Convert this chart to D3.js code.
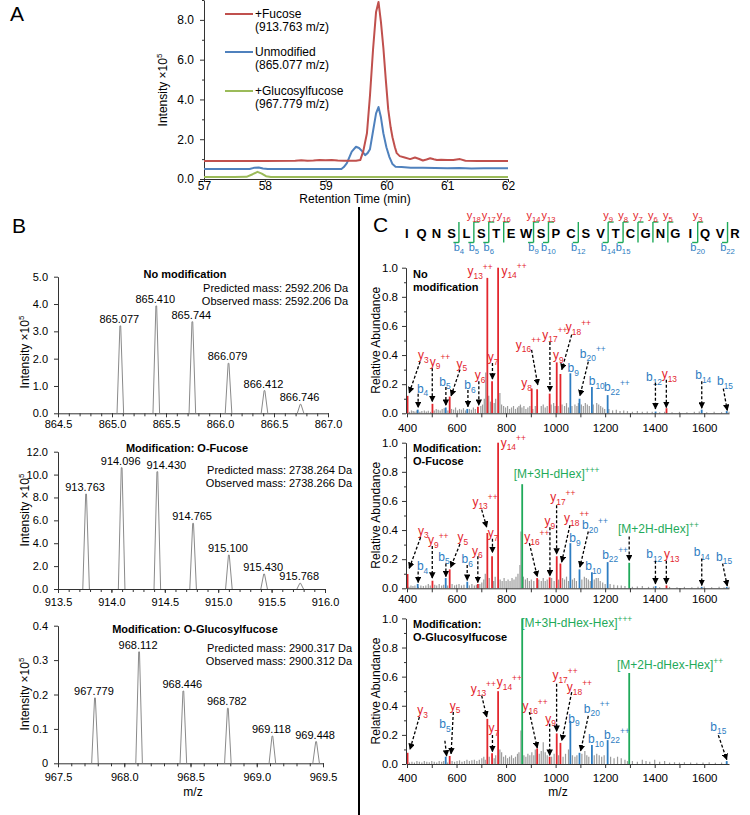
<!DOCTYPE html>
<html><head><meta charset="utf-8">
<script src="https://cdn.jsdelivr.net/npm/d3@7"></script>
<style>body{margin:0;background:#fff}svg{display:block}text{font-family:"Liberation Sans",Arial,Helvetica,sans-serif}</style>
</head><body><svg id="c" width="750" height="815"></svg>
<script>
// ---------------- DATA ----------------
// Panel A: extracted ion chromatograms [time (min), intensity x1e5]
const rtTicks = [57, 58, 59, 60, 61, 62];
const intTicksA = [0, 2, 4, 6, 8];
const fucoseTrace = [[57.0,0.91],[57.5,0.91],[58.0,0.91],[58.5,0.92],[58.6,0.94],[58.7,0.92],[58.8,0.93],[58.9,0.95],[59.0,0.94],[59.1,0.96],[59.2,0.93],[59.3,0.92],[59.4,0.92],[59.5,0.92],[59.57,0.95],[59.62,1.4],[59.68,2.3],[59.73,4.2],[59.78,6.5],[59.83,8.4],[59.87,8.9],[59.91,7.9],[59.95,6.6],[59.99,5.0],[60.03,3.5],[60.07,2.6],[60.1,2.1],[60.14,1.6],[60.17,1.3],[60.22,1.15],[60.3,1.08],[60.39,1.0],[60.47,1.08],[60.53,1.02],[60.6,0.93],[60.66,0.98],[60.72,1.04],[60.78,0.99],[60.83,0.96],[60.9,0.97],[61.0,0.96],[61.1,0.95],[61.21,1.0],[61.3,0.92],[61.5,0.91],[61.7,0.91],[61.9,0.91],[62.0,0.91]];
const unmodTrace = [[57.0,0.5],[57.5,0.5],[57.75,0.5],[57.82,0.56],[57.9,0.58],[57.97,0.53],[58.05,0.5],[58.5,0.5],[59.0,0.5],[59.26,0.5],[59.3,0.6],[59.35,0.8],[59.43,1.38],[59.5,1.62],[59.55,1.56],[59.6,1.4],[59.65,1.2],[59.69,1.3],[59.73,1.5],[59.78,2.4],[59.83,3.3],[59.87,3.62],[59.91,3.1],[59.95,2.3],[60.0,1.6],[60.05,1.1],[60.1,0.75],[60.15,0.62],[60.25,0.6],[60.4,0.57],[60.6,0.56],[60.8,0.55],[61.0,0.54],[61.2,0.55],[61.4,0.53],[61.6,0.54],[61.8,0.54],[62.0,0.54]];
const glcFucTrace = [[57.0,0.1],[57.5,0.1],[57.7,0.11],[57.8,0.24],[57.88,0.36],[57.95,0.27],[58.02,0.14],[58.1,0.1],[58.5,0.1],[59.0,0.1],[60.0,0.1],[61.0,0.1],[62.0,0.1]];
const legendNames = ["+Fucose", "Unmodified", "+Glucosylfucose"];
const legendMz = ["(913.763 m/z)", "(865.077 m/z)", "(967.779 m/z)"];

// Panel B: isotope envelopes
const b1Ticks = [864.5, 865.0, 865.5, 866.0, 866.5, 867.0];
const b1Mz = [865.077, 865.410, 865.744, 866.079, 866.412, 866.746];
const b1Int = [3.2, 3.93, 3.35, 1.83, 0.83, 0.33];
const b1YTicks = [0, 1, 2, 3, 4, 5];
const b2Ticks = [913.5, 914.0, 914.5, 915.0, 915.5, 916.0];
const b2Mz = [913.763, 914.096, 914.430, 914.765, 915.100, 915.430, 915.768];
const b2Int = [8.3, 10.6, 10.25, 5.74, 2.97, 1.31, 0.5];
const b2YTicks = [0, 2, 4, 6, 8, 10, 12];
const b3Ticks = [967.5, 968.0, 968.5, 969.0, 969.5];
const b3Mz = [967.779, 968.112, 968.446, 968.782, 969.118, 969.448];
const b3Int = [0.19, 0.324, 0.21, 0.16, 0.079, 0.063];
const b3YTicks = [0, 0.1, 0.2, 0.3, 0.4];
const bTitles = ["No modification", "Modification: O-Fucose", "Modification: O-Glucosylfucose"];
const bPredicted = ["Predicted mass: 2592.206 Da", "Predicted mass: 2738.264 Da", "Predicted mass: 2900.317 Da"];
const bObserved = ["Observed mass: 2592.206 Da", "Observed mass: 2738.266 Da", "Observed mass: 2900.312 Da"];

// Panel C: sequence and fragment coverage
const sequence = "IQNSLSTEWSPCSVTCGNGIQVR".split("");
const bIons = [4, 5, 6, 9, 10, 12, 14, 15, 20, 22];
const yIons = [18, 17, 16, 14, 13, 9, 8, 7, 6, 5, 3];
const mzTicks = [400, 600, 800, 1000, 1200, 1400, 1600];
const abTicks = [0, 0.2, 0.4, 0.6, 0.8, 1.0];

// MS/MS peaks [m/z, relative abundance]
const c1Red = [[402.25,0.12],[502.75,0.065],[572.35,0.115],[686.39,0.045],[724.34,0.93],[743.42,0.22],[767.86,1.0],[903.45,0.17],[925.42,0.165],[975.94,0.135],[1004.49,0.35],[1019.46,0.27],[1447.68,0.035]];
const c1Blue = [[443.22,0.025],[556.31,0.04],[643.34,0.03],[1059.51,0.275],[1096.49,0.1],[1146.54,0.18],[1210.05,0.125],[1403.63,0.012],[1589.73,0.025],[1690.77,0.015]];
const c1Green = [];
const c1Grey = [[410,0.01],[418,0.02],[425,0.015],[432,0.012],[440,0.02],[452,0.01],[460,0.015],[470,0.02],[478,0.012],[486,0.018],[495,0.01],[510,0.02],[518,0.03],[526,0.025],[534,0.02],[542,0.03],[550,0.035],[565,0.02],[580,0.03],[588,0.025],[596,0.04],[604,0.02],[612,0.03],[620,0.025],[628,0.035],[636,0.02],[652,0.03],[660,0.025],[668,0.04],[676,0.03],[698,0.05],[705,0.06],[712,0.1],[718,0.28],[730,0.12],[737,0.08],[752,0.07],[758,0.1],[775,0.14],[782,0.06],[790,0.05],[798,0.04],[806,0.05],[814,0.03],[822,0.04],[830,0.05],[838,0.03],[846,0.04],[852,0.05],[858,0.06],[864,0.04],[872,0.05],[880,0.03],[888,0.04],[896,0.05],[908,0.03],[918,0.05],[942,0.05],[950,0.06],[958,0.04],[966,0.05],[982,0.06],[992,0.07],[998,0.05],[1010,0.05],[1026,0.06],[1036,0.05],[1044,0.07],[1052,0.04],[1066,0.05],[1078,0.06],[1086,0.05],[1092,0.07],[1104,0.06],[1112,0.05],[1120,0.07],[1128,0.06],[1136,0.05],[1152,0.06],[1166,0.07],[1174,0.06],[1182,0.05],[1190,0.04],[1198,0.03],[1215,0.03],[1230,0.02],[1245,0.025],[1260,0.015],[1275,0.02],[1290,0.015],[1310,0.01],[1330,0.015],[1350,0.01],[1370,0.012],[1390,0.01],[1420,0.008],[1440,0.01],[1470,0.008],[1500,0.01],[1530,0.008],[1560,0.01],[1580,0.012],[1610,0.008],[1640,0.01],[1670,0.008],[1700,0.01]];

const c2Red = [[402.25,0.098],[502.75,0.052],[572.35,0.13],[686.39,0.03],[724.34,0.38],[743.42,0.22],[767.86,1.0],[925.42,0.07],[975.94,0.075],[1004.49,0.22],[1019.46,0.17],[1447.68,0.02]];
const c2Blue = [[443.22,0.03],[556.31,0.07],[643.34,0.045],[1059.51,0.31],[1096.49,0.13],[1146.54,0.11],[1210.05,0.18],[1403.63,0.015],[1589.73,0.01],[1690.77,0.01]];
const c2Green = [[865.08,0.715],[1297.11,0.175]];
const c2Grey = [[408,0.01],[416,0.02],[424,0.015],[432,0.02],[446,0.01],[456,0.02],[466,0.015],[476,0.02],[486,0.03],[494,0.02],[512,0.025],[520,0.02],[530,0.03],[540,0.02],[548,0.025],[564,0.02],[582,0.03],[592,0.02],[600,0.025],[610,0.03],[620,0.02],[630,0.025],[652,0.02],[662,0.03],[672,0.02],[680,0.025],[694,0.03],[702,0.04],[710,0.06],[716,0.1],[732,0.07],[750,0.05],[756,0.08],[776,0.06],[784,0.05],[792,0.07],[800,0.05],[808,0.06],[816,0.05],[824,0.07],[832,0.06],[840,0.08],[848,0.1],[856,0.16],[860,0.39],[870,0.08],[878,0.06],[886,0.07],[894,0.05],[902,0.06],[912,0.05],[932,0.06],[942,0.05],[950,0.07],[958,0.05],[966,0.06],[984,0.07],[994,0.05],[1012,0.06],[1028,0.07],[1036,0.06],[1044,0.08],[1052,0.05],[1068,0.06],[1076,0.07],[1084,0.05],[1106,0.06],[1116,0.08],[1124,0.07],[1132,0.06],[1140,0.05],[1156,0.06],[1164,0.07],[1172,0.07],[1180,0.05],[1190,0.04],[1200,0.03],[1220,0.03],[1235,0.025],[1250,0.02],[1265,0.02],[1280,0.015],[1310,0.01],[1330,0.012],[1350,0.015],[1375,0.01],[1395,0.012],[1420,0.008],[1460,0.01],[1490,0.008],[1520,0.01],[1550,0.008],[1575,0.01],[1600,0.012],[1630,0.008],[1660,0.01],[1680,0.008],[1700,0.01]];

const c3Red = [[402.25,0.077],[572.35,0.055],[724.34,0.31],[743.42,0.073],[767.86,0.5],[925.42,0.107],[975.94,0.05],[1004.49,0.21],[1019.46,0.145]];
const c3Blue = [[556.31,0.05],[1059.51,0.295],[1096.49,0.077],[1146.54,0.13],[1210.05,0.164],[1690.77,0.02]];
const c3Green = [[865.08,1.0],[1297.11,0.625]];
const c3Grey = [[410,0.01],[420,0.015],[430,0.01],[440,0.02],[450,0.015],[460,0.01],[470,0.02],[480,0.015],[490,0.012],[500,0.02],[510,0.015],[520,0.01],[530,0.02],[540,0.015],[548,0.02],[564,0.01],[582,0.02],[592,0.015],[602,0.02],[612,0.025],[622,0.015],[632,0.02],[642,0.03],[652,0.02],[662,0.025],[672,0.03],[682,0.02],[692,0.03],[702,0.04],[710,0.05],[716,0.03],[732,0.05],[752,0.04],[758,0.06],[775,0.1],[782,0.08],[790,0.05],[798,0.06],[806,0.04],[814,0.05],[822,0.06],[830,0.04],[838,0.05],[846,0.07],[852,0.08],[860,0.23],[872,0.06],[880,0.05],[888,0.07],[896,0.06],[904,0.08],[912,0.06],[918,0.1],[934,0.07],[942,0.09],[950,0.15],[958,0.08],[966,0.06],[984,0.05],[994,0.07],[1012,0.06],[1030,0.05],[1040,0.07],[1052,0.1],[1068,0.06],[1078,0.05],[1086,0.06],[1106,0.07],[1118,0.09],[1126,0.06],[1134,0.05],[1156,0.06],[1166,0.07],[1176,0.06],[1186,0.05],[1196,0.06],[1222,0.05],[1236,0.04],[1250,0.05],[1265,0.04],[1280,0.03],[1290,0.02],[1310,0.02],[1330,0.015],[1350,0.03],[1365,0.02],[1380,0.015],[1400,0.03],[1420,0.015],[1440,0.02],[1460,0.01],[1480,0.012],[1500,0.01],[1520,0.012],[1545,0.01],[1570,0.008],[1595,0.01],[1620,0.012],[1645,0.008],[1670,0.01],[1690,0.012]];

// Annotations: [label, label m/z, label abundance, arrow [fromMz, fromAb, toMz, toAb] | null]
const c1Labels = [
  ["y13++",695,0.975,null],["y14++",832,0.98,null],
  ["y3",466,0.40,[453,0.355,409,0.14]],["y9++",533,0.355,[502,0.31,502,0.08]],["y5",621,0.34,[614,0.30,578,0.12]],
  ["b4",463,0.17,[445,0.135,445,0.04]],["b5",553,0.217,[557,0.18,557,0.055]],["b6",654,0.195,[646,0.16,646,0.045]],
  ["y6",695,0.263,[690,0.22,690,0.055]],["y7",748,0.387,[745,0.345,745,0.235]],["y8",883,0.206,null],
  ["y16++",890,0.47,[903,0.435,928,0.195]],["y17++",997,0.54,[977,0.49,977,0.15]],["y18++",1092,0.59,[1065,0.54,1025,0.30]],
  ["y9",1011,0.40,null],["b9",1071,0.31,null],["b20++",1150,0.41,[1132,0.355,1098,0.12]],["b10",1166,0.22,null],
  ["b22++",1247,0.18,null],["b12",1397,0.25,[1403,0.21,1403,0.03]],["y13",1459,0.27,[1447,0.23,1447,0.04]],
  ["b14",1596,0.26,[1590,0.22,1590,0.035]],["b15",1684,0.22,[1677,0.17,1693,0.02]]
];
const c2Labels = [
  ["y14++",829,1.0,null],["[M+3H-dHex]+++",1004,0.785,null],
  ["y13++",715,0.595,[701.5,0.54,721.7,0.42]],["y7",748,0.38,[745,0.34,745,0.245]],
  ["y3",466,0.395,[455,0.35,409,0.137]],["y9++",526,0.33,[502,0.29,502,0.07]],["y5",625,0.35,[614,0.304,576,0.144]],
  ["b4",463,0.153,[445,0.115,445,0.04]],["b5",549,0.217,[557,0.17,557,0.08]],["b6",643,0.2,[643,0.16,643,0.055]],
  ["y6",684,0.258,[686,0.22,686,0.04]],["y16++",924,0.35,[894,0.31,926,0.08]],["y17++",1029,0.625,[1004,0.57,1004,0.235]],
  ["y9",977,0.46,[977,0.42,977,0.085]],["y18++",1085,0.48,[1058,0.434,1024.5,0.18]],["b9",1078,0.343,null],
  ["b20++",1159,0.434,[1132,0.39,1098,0.145]],["b10",1152,0.153,null],["b22++",1240,0.23,null],
  ["[M+2H-dHex]++",1415,0.405,[1297,0.355,1297,0.19]],["b12",1398,0.235,[1403,0.19,1403,0.03]],
  ["y13",1469,0.235,[1447,0.19,1447,0.03]],["b14",1590,0.25,[1590,0.205,1590,0.02]],["b15",1680,0.217,[1674,0.17,1693,0.016]]
];
const c3Labels = [
  ["[M+3H-dHex-Hex]+++",1085,0.97,null],["[M+2H-dHex-Hex]++",1462,0.677,null],
  ["y13++",708,0.517,[701.5,0.47,722,0.323]],["y14++",813,0.562,null],["y7",751,0.244,[745,0.199,745,0.085]],
  ["y3",463,0.37,[450,0.323,412,0.1]],["y5",594,0.40,[587,0.357,578,0.07]],["b5",553,0.273,[553,0.16,560,0.055]],
  ["y16++",917,0.396,[894,0.357,926,0.11]],["y9",980,0.312,[976,0.277,976,0.06]],["y17++",1038,0.608,[1004,0.552,1004,0.225]],
  ["y18++",1096,0.528,[1065,0.494,1025,0.16]],["b9",1074,0.31,null],["b20++",1166,0.38,[1132,0.33,1101,0.09]],
  ["b10",1163,0.169,null],["b22++",1247,0.198,null],["b15",1657,0.255,[1657,0.198,1691,0.03]]
];

// ---------------- DRAWING ----------------
const RED = "#e3262d", BLUE = "#2e7dc2", GREEN = "#1faa5a", GREY = "#9c9c9c", AX = "#333";
const svg = d3.select("#c");
const defs = svg.append("defs");
defs.append("marker").attr("id","ah").attr("viewBox","0 0 10 10").attr("refX",9).attr("refY",5)
  .attr("markerWidth",5).attr("markerHeight",5).attr("orient","auto")
  .append("path").attr("d","M0,0L10,5L0,10z").attr("fill","#000");

function styleAxis(g, fs) {
  g.select("path.domain").attr("stroke", AX).attr("stroke-width", 1);
  g.selectAll(".tick line").attr("stroke", AX);
  g.selectAll(".tick text").attr("fill", "#000").attr("font-size", fs)
    .attr("font-family", '"Liberation Sans",Arial,sans-serif');
  return g;
}
function minorAxis(g) { g.select("path.domain").remove(); g.selectAll(".tick line").attr("stroke", AX); }

// Panel letters
[["A",10,21],["B",12,233],["C",373,232]].forEach(([t,x,y]) =>
  svg.append("text").attr("x",x).attr("y",y).attr("font-size",21).text(t));

// divider
svg.append("line").attr("x1",359).attr("x2",359).attr("y1",207).attr("y2",815).attr("stroke","#000").attr("stroke-width",2);

// ---- Panel A ----
{
  const x = d3.scaleLinear().domain([57,62]).range([204,508]);
  const y = d3.scaleLinear().domain([0,9]).range([179,0]);
  styleAxis(svg.append("g").attr("transform","translate(0,179)")
    .call(d3.axisBottom(x).tickValues(rtTicks).tickFormat(d3.format("d")).tickSize(3).tickSizeOuter(0).tickPadding(-1)), 12);
  styleAxis(svg.append("g").attr("transform","translate(204,0)")
    .call(d3.axisLeft(y).tickValues(intTicksA).tickFormat(d3.format(".1f")).tickSize(4).tickSizeOuter(0).tickPadding(6)), 12);
  minorAxis(svg.append("g").attr("transform","translate(204,0)")
    .call(d3.axisLeft(y).tickValues([1,3,5,7,9]).tickFormat("").tickSize(2)));
  const line = d3.line().x(d=>x(d[0])).y(d=>y(d[1]));
  const series = [[glcFucTrace,"#9bbb59"],[unmodTrace,"#4f81bd"],[fucoseTrace,"#c0504d"]];
  series.forEach(([d,c]) => svg.append("path").datum(d).attr("d",line).attr("fill","none")
    .attr("stroke",c).attr("stroke-width",2).attr("stroke-linejoin","round"));
  const legCol = ["#c0504d","#4f81bd","#9bbb59"];
  const legY = [14, 52, 91];
  legendNames.forEach((n,i) => {
    svg.append("line").attr("x1",225).attr("x2",253).attr("y1",legY[i]).attr("y2",legY[i]).attr("stroke",legCol[i]).attr("stroke-width",2);
    svg.append("text").attr("x",255).attr("y",legY[i]+4).attr("font-size",12).text(n);
    svg.append("text").attr("x",255).attr("y",legY[i]+17).attr("font-size",12).text(legendMz[i]);
  });
  const yl = svg.append("text").attr("transform","translate(167,90) rotate(-90)").attr("text-anchor","middle").attr("font-size",12);
  yl.append("tspan").text("Intensity ×10");
  yl.append("tspan").attr("font-size",8).attr("dy",-5).text("5");
  svg.append("text").attr("x",355).attr("y",203).attr("text-anchor","middle").attr("font-size",12).text("Retention Time (min)");
}

// ---- Panel B ----
const labelNudge = {"914.430": 10};   // layout: label moved right to clear its neighbour
function drawB(cfg) {
  const x = d3.scaleLinear().domain(cfg.xd).range([58, cfg.xr]);
  const y = d3.scaleLinear().domain(cfg.yd).range([cfg.y0, cfg.y1]);
  const minor = d3.range(Math.round(cfg.xd[0]*10), Math.round(cfg.xd[1]*10)+1).map(v=>v/10);
  minorAxis(svg.append("g").attr("transform",`translate(0,${cfg.y0})`)
    .call(d3.axisBottom(x).tickValues(minor).tickFormat("").tickSize(3)));
  styleAxis(svg.append("g").attr("transform",`translate(0,${cfg.y0})`)
    .call(d3.axisBottom(x).tickValues(cfg.xt).tickFormat(d3.format(".1f")).tickSize(4).tickSizeOuter(0).tickPadding(cfg.xpad)), 11);
  styleAxis(svg.append("g").attr("transform","translate(58,0)")
    .call(d3.axisLeft(y).tickValues(cfg.yt).tickFormat(cfg.yf).tickSize(4).tickSizeOuter(0).tickPadding(6)), 11);
  const tri = d3.line();
  cfg.mz.forEach((m,i) => {
    const px = x(m), py = y(cfg.int[i]);
    svg.append("path").attr("d", tri([[px-3.3,cfg.y0],[px-0.4,py],[px+0.4,py],[px+3.3,cfg.y0]]))
      .attr("fill","none").attr("stroke","#8a8a8a").attr("stroke-width",1);
    const lab = m.toFixed(3);
    svg.append("text").attr("x",px-1+(labelNudge[lab]||0)).attr("y",py-3).attr("text-anchor","middle").attr("font-size",11).text(lab);
  });
  svg.append("text").attr("x",cfg.tx).attr("y",cfg.ty).attr("text-anchor","middle").attr("font-size",11)
    .attr("font-weight","bold").text(cfg.title);
  svg.append("text").attr("x",cfg.rx).attr("y",cfg.py).attr("text-anchor","end").attr("font-size",11).text(cfg.pred);
  svg.append("text").attr("x",cfg.rx).attr("y",cfg.py+13).attr("text-anchor","end").attr("font-size",11).text(cfg.obs);
  const yl = svg.append("text").attr("transform",`translate(29,${cfg.ly}) rotate(-90)`).attr("text-anchor","middle").attr("font-size",12);
  yl.append("tspan").text("Intensity ×10");
  yl.append("tspan").attr("font-size",8).attr("dy",-5).text("5");
}
const f1 = d3.format(".1f");
drawB({xd:[864.5,867.0], xr:328, yd:[0,5], y0:413.3, y1:276.7, xt:b1Ticks, yt:b1YTicks, yf:f1, mz:b1Mz, int:b1Int,
  xpad:3, title:bTitles[0], tx:185, ty:278, rx:348, py:292, pred:bPredicted[0], obs:bObserved[0], ly:352});
drawB({xd:[913.5,916.0], xr:325, yd:[0,12], y0:589, y1:451.7, xt:b2Ticks, yt:b2YTicks, yf:f1, mz:b2Mz, int:b2Int,
  xpad:5, title:bTitles[1], tx:187, ty:452, rx:352, py:474, pred:bPredicted[1], obs:bObserved[1], ly:510});
drawB({xd:[967.5,969.5], xr:323, yd:[0,0.4], y0:763.3, y1:625.7, xt:b3Ticks, yt:b3YTicks, yf:d=>d===0?"0":d.toFixed(1), mz:b3Mz, int:b3Int,
  xpad:6, title:bTitles[2], tx:195, ty:633, rx:352, py:652, pred:bPredicted[2], obs:bObserved[2], ly:694});
svg.append("text").attr("x",193).attr("y",796).attr("text-anchor","middle").attr("font-size",12).text("m/z");

function ionText(g, x, y, label, color, size) {
  const t = g.append("text").attr("x",x).attr("y",y).attr("text-anchor","middle").attr("fill",color).attr("font-size",size);
  let m = label.match(/^([a-z])(\d+)(\+*)$/);
  if (m) {
    t.append("tspan").text(m[1]);
    t.append("tspan").attr("font-size",size*0.7).attr("dy",size*0.3).text(m[2]);
    if (m[3]) t.append("tspan").attr("font-size",size*0.7).attr("dy",-size*0.75).text(m[3]);
  } else {
    m = label.match(/^(.*\])(\+*)$/);
    t.append("tspan").text(m[1]);
    t.append("tspan").attr("font-size",size*0.7).attr("dy",-size*0.42).text(m[2]);
  }
  return t;
}

// ---- Panel C: sequence ----
{
  const sx = d3.scalePoint().domain(d3.range(sequence.length)).range([406.7, 735]);
  sequence.forEach((s,i) => svg.append("text").attr("x",sx(i)).attr("y",237.5).attr("text-anchor","middle")
    .attr("font-family",'"Liberation Mono","Courier New",monospace').attr("font-weight","bold").attr("font-size",13).text(s));
  const cut = k => (sx(k-1)+sx(k))/2;   // cleavage after residue k
  const cuts = new Set([...bIons, ...yIons.map(n=>sequence.length-n)]);
  const g = svg.append("g").attr("stroke",GREEN).attr("stroke-width",1.4).attr("fill","none");
  cuts.forEach(k => g.append("line").attr("x1",cut(k)).attr("x2",cut(k)).attr("y1",222).attr("y2",242.5));
  bIons.forEach(n => {
    g.append("line").attr("x1",cut(n)-5.5).attr("x2",cut(n)).attr("y1",242.5).attr("y2",242.5);
    ionText(svg, cut(n), 251, "b"+n, BLUE, 11);
  });
  yIons.forEach(n => {
    const k = sequence.length-n;
    g.append("line").attr("x1",cut(k)).attr("x2",cut(k)+5.5).attr("y1",222).attr("y2",222);
    ionText(svg, cut(k), 219, "y"+n, RED, 11);
  });
}

// ---- Panel C: spectra ----
function drawC(cfg) {
  const x = d3.scaleLinear().domain([400,1700]).range([407, 729]);
  const y = d3.scaleLinear().domain([0,1]).range([cfg.y0, cfg.y0-145.6]);
  const bars = (data, color, w) => data.forEach(([m,v]) => svg.append("line")
    .attr("x1",x(m)).attr("x2",x(m)).attr("y1",y(0)).attr("y2",y(v)).attr("stroke",color).attr("stroke-width",w));
  bars(cfg.grey, GREY, 1.2);
  bars(cfg.blue, BLUE, 1.8);
  bars(cfg.red, RED, 1.8);
  bars(cfg.green, GREEN, 1.8);
  minorAxis(svg.append("g").attr("transform",`translate(0,${cfg.y0})`)
    .call(d3.axisBottom(x).tickValues(d3.range(500,1700,200)).tickFormat("").tickSize(4)));
  styleAxis(svg.append("g").attr("transform",`translate(0,${cfg.y0})`)
    .call(d3.axisBottom(x).tickValues(mzTicks).tickFormat(d3.format("d")).tickSize(4).tickSizeOuter(0).tickPadding(cfg.xpad)), 11.5);
  minorAxis(svg.append("g").attr("transform","translate(406,0)")
    .call(d3.axisLeft(y).tickValues([0.1,0.3,0.5,0.7,0.9]).tickFormat("").tickSize(2)));
  styleAxis(svg.append("g").attr("transform","translate(406,0)")
    .call(d3.axisLeft(y).tickValues(abTicks).tickFormat(d3.format(".1f")).tickSize(4).tickSizeOuter(0).tickPadding(4)), 11.5);
  cfg.labels.forEach(([lab, lm, lv, arr]) => {
    const col = lab[0]==="y" ? RED : lab[0]==="b" ? BLUE : GREEN;
    ionText(svg, x(lm), y(lv)+4, lab, col, 12);
    if (arr) svg.append("line").attr("x1",x(arr[0])).attr("y1",y(arr[1])).attr("x2",x(arr[2])).attr("y2",y(arr[3]))
      .attr("stroke","#000").attr("stroke-width",1.3).attr("stroke-dasharray","3,2").attr("marker-end","url(#ah)");
  });
  cfg.title.forEach((t,i) => svg.append("text").attr("x",413).attr("y",cfg.ty+i*12.5).attr("font-size",11)
    .attr("font-weight","bold").text(t));
  svg.append("text").attr("transform",`translate(380,${cfg.y0-73}) rotate(-90)`).attr("text-anchor","middle")
    .attr("font-size",12).text("Relative Abundance");
}
drawC({y0:413.3, red:c1Red, blue:c1Blue, green:c1Green, grey:c1Grey, labels:c1Labels, title:["No","modification"], ty:278, xpad:7});
drawC({y0:588.3, red:c2Red, blue:c2Blue, green:c2Green, grey:c2Grey, labels:c2Labels, title:["Modification:","O-Fucose"], ty:452, xpad:3});
drawC({y0:764, red:c3Red, blue:c3Blue, green:c3Green, grey:c3Grey, labels:c3Labels, title:["Modification:","O-Glucosylfucose"], ty:628, xpad:6});
svg.append("text").attr("x",558).attr("y",796).attr("text-anchor","middle").attr("font-size",12).text("m/z");
</script></body></html>
